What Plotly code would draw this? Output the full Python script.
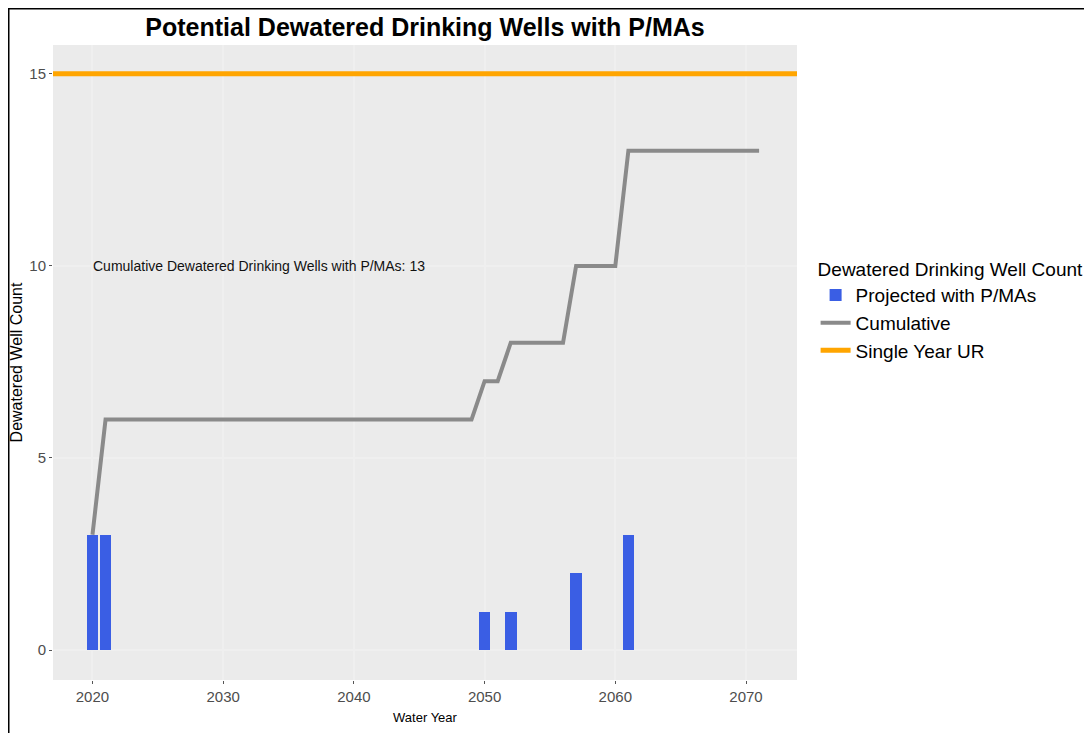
import plotly.graph_objects as go

# Yearly dewatered wells (bars)
bar_years = [2020, 2021, 2050, 2052, 2057, 2061]
bar_counts = [3, 3, 1, 1, 2, 3]

# Cumulative count per water year
cum_years = list(range(2020, 2072))
cum_counts = ([3] + [6] * 29 + [7, 7] + [8] * 5 + [10] * 4 + [13] * 11)

ur_threshold = 15
x_range = [2016.98, 2073.9]
y_range = [-0.78, 15.75]

x_ticks = [2020, 2030, 2040, 2050, 2060, 2070]
y_ticks = [0, 5, 10, 15]

fig = go.Figure()

fig.add_trace(go.Bar(
    x=bar_years, y=bar_counts,
    width=0.9,
    name="Projected with P/MAs",
    marker=dict(color="#3a5ee4", line=dict(width=0)),
))

fig.add_trace(go.Scatter(
    x=cum_years, y=cum_counts,
    mode="lines",
    name="Cumulative",
    line=dict(color="#8a8a8a", width=4),
))

fig.add_trace(go.Scatter(
    x=x_range, y=[ur_threshold, ur_threshold],
    mode="lines",
    name="Single Year UR",
    line=dict(color="#FFA500", width=5),
))

fig.add_annotation(
    x=2020, y=10, xref="x", yref="y",
    text=f"Cumulative Dewatered Drinking Wells with P/MAs: {cum_counts[-1]}",
    showarrow=False, xanchor="left", yanchor="middle", xshift=-1,
    font=dict(size=14, color="#111"),
)

# outer frame
fig.add_shape(
    type="rect", xref="paper", yref="paper",
    x0=-0.0598, x1=1.3925, y0=-0.12, y1=1.0575,
    line=dict(color="black", width=2), fillcolor="rgba(0,0,0,0)",
)

fig.update_layout(
    width=1084, height=725,
    margin=dict(l=45, r=295, t=37, b=53, autoexpand=False),
    paper_bgcolor="white",
    plot_bgcolor="#ebebeb",
    font=dict(family="Liberation Sans, Arial, sans-serif", color="#4d4d4d"),
    title=dict(
        text="<b>Potential Dewatered Drinking Wells with P/MAs</b>",
        x=0.3847, xanchor="center", y=0.974, yref="container", yanchor="middle",
        font=dict(size=25, color="black"),
    ),
    showlegend=True,
    legend=dict(
        x=1.025, xanchor="left", y=0.675, yanchor="top",
        title=dict(text="Dewatered Drinking Well Count", font=dict(size=19, color="black")),
        font=dict(size=19, color="black"),
        bgcolor="rgba(0,0,0,0)",
        tracegroupgap=0, itemwidth=30,
    ),
    bargap=0,
)

fig.update_xaxes(
    range=x_range, tickvals=x_ticks, automargin=False,
    showgrid=True, gridcolor="#efefef", gridwidth=1.5,
    zeroline=False, showline=False,
    ticks="outside", ticklen=3, tickcolor="#555",
    tickfont=dict(size=15, color="#4d4d4d"),
    title=dict(text="Water Year", font=dict(size=13, color="black"), standoff=8),
)
fig.update_yaxes(
    range=y_range, tickvals=y_ticks, automargin=False,
    showgrid=True, gridcolor="#efefef", gridwidth=1.5,
    zeroline=False, showline=False,
    ticks="outside", ticklen=3, tickcolor="#555",
    tickfont=dict(size=15, color="#4d4d4d"),
    title=dict(text="Dewatered Well Count", font=dict(size=16, color="black"), standoff=4),
)

fig.write_html("out.html")
